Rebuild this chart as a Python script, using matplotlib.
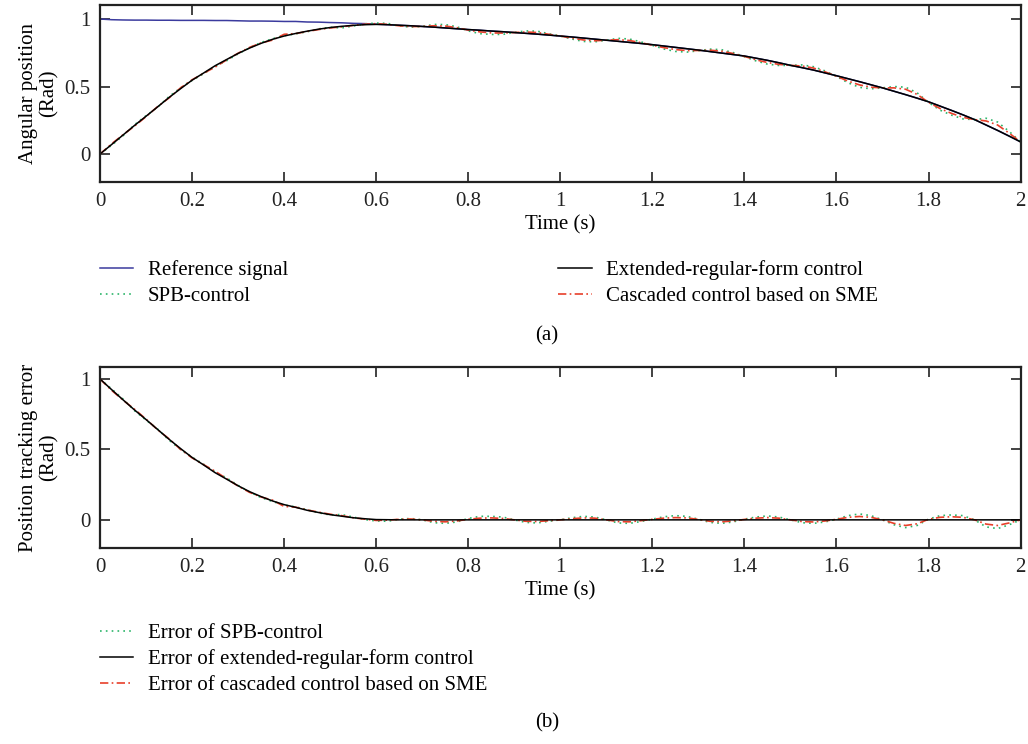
import numpy as np
import matplotlib.pyplot as plt

plt.rcParams['font.family'] = ['Liberation Serif', 'DejaVu Serif']

# sample times (s), 0.025 s step
t = np.round(np.arange(81) * 0.025, 3)

reference = [1.000, 0.995, 0.993, 0.992, 0.992, 0.991, 0.991, 0.990, 0.990, 0.990,
             0.989, 0.989, 0.987, 0.985, 0.985, 0.984, 0.982, 0.982, 0.978, 0.977,
             0.974, 0.972, 0.968, 0.966, 0.962, 0.958, 0.954, 0.950, 0.945, 0.940,
             0.934, 0.928, 0.922, 0.917, 0.911, 0.906, 0.900, 0.894, 0.888, 0.881,
             0.874, 0.867, 0.859, 0.851, 0.843, 0.835, 0.827, 0.819, 0.810, 0.800,
             0.790, 0.780, 0.770, 0.759, 0.748, 0.737, 0.726, 0.710, 0.694, 0.676,
             0.657, 0.640, 0.622, 0.601, 0.580, 0.558, 0.536, 0.513, 0.490, 0.465,
             0.440, 0.414, 0.387, 0.355, 0.323, 0.290, 0.255, 0.215, 0.175, 0.133,
             0.090]

extended = [0.000, 0.070, 0.141, 0.212, 0.280, 0.349, 0.419, 0.484, 0.547, 0.600,
            0.654, 0.700, 0.745, 0.785, 0.820, 0.850, 0.874, 0.893, 0.910, 0.925,
            0.937, 0.946, 0.953, 0.958, 0.960, 0.958, 0.954, 0.950, 0.945, 0.940,
            0.934, 0.928, 0.922, 0.917, 0.911, 0.906, 0.900, 0.894, 0.888, 0.881,
            0.874, 0.867, 0.859, 0.851, 0.843, 0.835, 0.827, 0.819, 0.810, 0.800,
            0.790, 0.780, 0.770, 0.759, 0.748, 0.737, 0.726, 0.710, 0.694, 0.676,
            0.657, 0.640, 0.622, 0.601, 0.580, 0.558, 0.536, 0.513, 0.490, 0.465,
            0.440, 0.414, 0.387, 0.355, 0.323, 0.290, 0.255, 0.215, 0.175, 0.133,
            0.090]

spb = [0.000, 0.065, 0.135, 0.217, 0.284, 0.346, 0.426, 0.490, 0.545, 0.595,
       0.649, 0.691, 0.742, 0.787, 0.827, 0.854, 0.877, 0.890, 0.906, 0.927,
       0.939, 0.934, 0.948, 0.964, 0.970, 0.968, 0.949, 0.940, 0.945, 0.960,
       0.959, 0.943, 0.912, 0.892, 0.886, 0.886, 0.900, 0.912, 0.910, 0.891,
       0.874, 0.852, 0.834, 0.831, 0.843, 0.857, 0.852, 0.831, 0.805, 0.778,
       0.760, 0.755, 0.765, 0.777, 0.773, 0.752, 0.721, 0.690, 0.666, 0.656,
       0.657, 0.660, 0.647, 0.616, 0.575, 0.528, 0.494, 0.483, 0.490, 0.500,
       0.495, 0.454, 0.382, 0.325, 0.288, 0.260, 0.255, 0.265, 0.237, 0.168,
       0.090]

cascaded = [0.000, 0.075, 0.143, 0.207, 0.277, 0.351, 0.416, 0.490, 0.550, 0.598,
            0.644, 0.697, 0.747, 0.790, 0.823, 0.844, 0.887, 0.892, 0.908, 0.922,
            0.934, 0.942, 0.953, 0.961, 0.966, 0.960, 0.950, 0.944, 0.945, 0.950,
            0.948, 0.936, 0.918, 0.905, 0.897, 0.896, 0.900, 0.904, 0.900, 0.887,
            0.874, 0.859, 0.845, 0.839, 0.843, 0.847, 0.841, 0.825, 0.806, 0.788,
            0.774, 0.766, 0.767, 0.769, 0.762, 0.745, 0.723, 0.698, 0.678, 0.664,
            0.657, 0.652, 0.637, 0.609, 0.576, 0.540, 0.512, 0.495, 0.490, 0.490,
            0.480, 0.442, 0.383, 0.337, 0.301, 0.272, 0.255, 0.245, 0.215, 0.155,
            0.090]

err_spb = [1.000, 0.930, 0.858, 0.775, 0.708, 0.645, 0.565, 0.500, 0.445, 0.395,
           0.340, 0.298, 0.245, 0.198, 0.158, 0.130, 0.105, 0.092, 0.072, 0.050,
           0.035, 0.038, 0.020, 0.002, -0.008, -0.010, 0.005, 0.010, 0.000, -0.020,
           -0.025, -0.015, 0.010, 0.025, 0.025, 0.020, 0.000, -0.018, -0.022, -0.010,
           0.000, 0.015, 0.025, 0.020, 0.000, -0.022, -0.025, -0.012, 0.005, 0.022,
           0.030, 0.025, 0.005, -0.018, -0.025, -0.015, 0.005, 0.020, 0.028, 0.020,
           0.000, -0.020, -0.025, -0.015, 0.005, 0.030, 0.042, 0.030, 0.000, -0.035,
           -0.055, -0.040, 0.005, 0.030, 0.035, 0.030, 0.000, -0.050, -0.062, -0.035,
           0.000]

err_ext = [1.000, 0.925, 0.852, 0.780, 0.712, 0.642, 0.572, 0.506, 0.443, 0.390,
           0.335, 0.289, 0.242, 0.200, 0.165, 0.134, 0.108, 0.089, 0.068, 0.052,
           0.037, 0.026, 0.015, 0.008, 0.002, 0.001, 0.000, 0.000, 0.000, 0.000,
           0.000, 0.000, 0.000, 0.000, 0.000, 0.000, 0.000, 0.000, 0.000, 0.000,
           0.000, 0.000, 0.000, 0.000, 0.000, 0.000, 0.000, 0.000, 0.000, 0.000,
           0.000, 0.000, 0.000, 0.000, 0.000, 0.000, 0.000, 0.000, 0.000, 0.000,
           0.000, 0.000, 0.000, 0.000, 0.000, 0.000, 0.000, 0.000, 0.000, 0.000,
           0.000, 0.000, 0.000, 0.000, 0.000, 0.000, 0.000, 0.000, 0.000, 0.000,
           0.000]

err_cas = [1.000, 0.920, 0.850, 0.785, 0.715, 0.640, 0.575, 0.500, 0.440, 0.392,
           0.345, 0.292, 0.240, 0.195, 0.162, 0.140, 0.095, 0.090, 0.070, 0.055,
           0.040, 0.030, 0.015, 0.005, -0.004, -0.002, 0.004, 0.006, 0.000, -0.010,
           -0.014, -0.008, 0.004, 0.012, 0.014, 0.010, 0.000, -0.010, -0.012, -0.006,
           0.000, 0.008, 0.014, 0.012, 0.000, -0.012, -0.014, -0.006, 0.004, 0.012,
           0.016, 0.014, 0.003, -0.010, -0.014, -0.008, 0.003, 0.012, 0.016, 0.012,
           0.000, -0.012, -0.015, -0.008, 0.004, 0.018, 0.024, 0.018, 0.000, -0.025,
           -0.040, -0.028, 0.004, 0.018, 0.022, 0.018, 0.000, -0.030, -0.040, -0.022,
           0.000]

c_ref = '#3b3b9e'
c_spb = '#2cb56a'
c_cas = '#e8402a'
fs = 15

fig = plt.figure(figsize=(10.28, 7.44), dpi=100)
ax1 = fig.add_axes([0.0973, 0.7554, 0.8955, 0.2379])
ax2 = fig.add_axes([0.0973, 0.2634, 0.8955, 0.2433])

l_ref, = ax1.plot(t, reference, color=c_ref, lw=1.1)
l_spb, = ax1.plot(t, spb, color=c_spb, lw=1.2, ls=(0, (1, 2.5)))
l_cas, = ax1.plot(t, cascaded, color=c_cas, lw=1.2, ls=(0, (5, 2, 1, 2)))
l_ext, = ax1.plot(t, extended, color='black', lw=1.1)
ax1.set_ylim(-0.207, 1.104)
ax1.set_ylabel('Angular position\n(Rad)', fontsize=fs, linespacing=1.1)

e_spb, = ax2.plot(t, err_spb, color=c_spb, lw=1.2, ls=(0, (1, 2.5)))
e_cas, = ax2.plot(t, err_cas, color=c_cas, lw=1.2, ls=(0, (5, 2, 1, 2)))
e_ext, = ax2.plot(t, err_ext, color='black', lw=1.1)
ax2.set_ylim(-0.2, 1.085)
ax2.set_ylabel('Position tracking error\n(Rad)', fontsize=fs, linespacing=1.1)

for ax in (ax1, ax2):
    ax.set_xlim(0, 2)
    ax.set_xticks(np.arange(0, 2.01, 0.2))
    ax.set_xticklabels(['0', '0.2', '0.4', '0.6', '0.8', '1', '1.2', '1.4', '1.6', '1.8', '2'])
    ax.set_yticks([0, 0.5, 1])
    ax.set_yticklabels(['0', '0.5', '1'])
    ax.tick_params(direction='in', length=7, width=1.2, top=True, right=True,
                   labelsize=fs, colors='#222222', pad=7)
    ax.set_xlabel('Time (s)', fontsize=fs, labelpad=3)
    for s in ax.spines.values():
        s.set_linewidth(1.6)
        s.set_color('#222222')

leg_kw = dict(frameon=False, fontsize=fs, loc='upper left', handlelength=1.6,
              handletextpad=0.7, borderpad=0, borderaxespad=0, labelspacing=0.3)
fig.legend([l_ref, l_spb], ['Reference signal', 'SPB-control'],
           bbox_to_anchor=(0.097, 0.650), **leg_kw)
fig.legend([l_ext, l_cas], ['Extended-regular-form control', 'Cascaded control based on SME'],
           bbox_to_anchor=(0.543, 0.650), **leg_kw)
fig.text(0.532, 0.549, '(a)', fontsize=fs, ha='center', va='center')

fig.legend([e_spb, e_ext, e_cas],
           ['Error of SPB-control', 'Error of extended-regular-form control',
            'Error of cascaded control based on SME'],
           bbox_to_anchor=(0.097, 0.162), **leg_kw)
fig.text(0.532, 0.029, '(b)', fontsize=fs, ha='center', va='center')

fig.savefig('out.png', dpi=100)
